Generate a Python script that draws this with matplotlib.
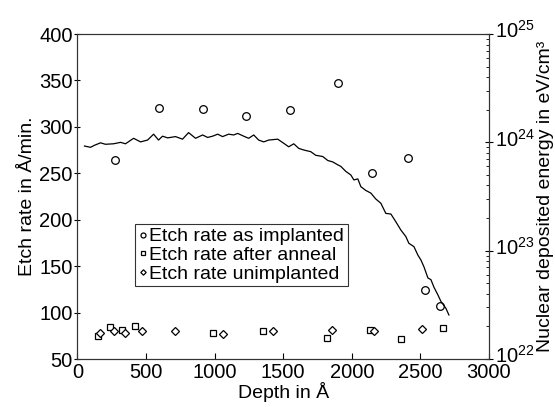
import numpy as np
import matplotlib
matplotlib.use("Agg")
import matplotlib.pyplot as plt
import matplotlib.transforms as mtransforms

plt.rcParams['font.family'] = ['Liberation Sans', 'DejaVu Sans']
plt.rcParams['mathtext.fontset'] = 'custom'
plt.rcParams['mathtext.rm'] = 'Liberation Sans'

# etch rate data (A/min) vs depth (A)
implanted_depth = [270, 591, 912, 1226, 1547, 1898, 2146, 2409, 2533, 2642]
implanted_rate = [264, 320, 319, 312, 318, 347, 250, 266, 124, 107]

anneal_depth = [153, 234, 328, 416, 985, 1350, 1818, 2131, 2358, 2664]
anneal_rate = [75, 84.5, 81, 85.5, 78, 80, 72.6, 81, 71.5, 83]

unimpl_depth = [161, 263, 350, 467, 708, 1058, 1428, 1854, 2161, 2511]
unimpl_rate = [78, 80, 78, 80, 80, 77, 80, 81, 80, 82]

# nuclear deposited energy profile (eV/cm3)
energy_depth = [51, 95, 124, 168, 204, 263, 314, 350, 409, 460, 511, 555, 591, 620,
                657, 715, 766, 810, 861, 912, 949, 985, 1022, 1058, 1102, 1139, 1168,
                1212, 1248, 1285, 1321, 1358, 1394, 1460, 1504, 1540, 1577, 1613, 1650,
                1701, 1737, 1788, 1825, 1861, 1898, 1920, 1956, 1993, 2015, 2044, 2066,
                2102, 2139, 2175, 2212, 2248, 2285, 2321, 2358, 2394, 2416, 2453, 2482,
                2504, 2526, 2555, 2577, 2599, 2628, 2650, 2686, 2708]
energy = [9.25e23, 9.0e23, 9.4e23, 9.9e23, 9.6e23, 9.7e23, 1.0e24, 9.7e23, 1.09e24,
          1.01e24, 1.05e24, 1.19e24, 1.05e24, 1.14e24, 1.10e24, 1.13e24, 1.07e24,
          1.23e24, 1.09e24, 1.17e24, 1.11e24, 1.14e24, 1.19e24, 1.13e24, 1.19e24,
          1.17e24, 1.21e24, 1.14e24, 1.09e24, 1.17e24, 1.05e24, 1.01e24, 1.05e24,
          1.07e24, 9.8e23, 9.1e23, 9.7e23, 8.8e23, 8.5e23, 8.2e23, 7.6e23, 7.4e23,
          6.8e23, 6.6e23, 6.2e23, 6.0e23, 5.4e23, 5.0e23, 4.5e23, 4.6e23, 3.9e23,
          3.6e23, 3.4e23, 3.0e23, 2.74e23, 2.21e23, 2.18e23, 1.85e23, 1.55e23,
          1.35e23, 1.17e23, 1.09e23, 9.1e22, 8.2e22, 7.1e22, 5.6e22, 5.4e22, 4.6e22,
          3.9e22, 3.4e22, 2.94e22, 2.55e22]

fig = plt.figure(figsize=(5.55, 4.07), dpi=100)
ax = fig.add_axes([0.1396, 0.1179, 0.7414, 0.7985])
ax2 = ax.twinx()

mk = dict(linestyle='none', markerfacecolor='white', markeredgecolor='black',
          markeredgewidth=0.9, markersize=5.5)
h1, = ax.plot(implanted_depth, implanted_rate, marker='o', label='Etch rate as implanted', **mk)
h2, = ax.plot(anneal_depth, anneal_rate, marker='s', label='Etch rate after anneal',
              **dict(mk, markersize=4.5))
h3, = ax.plot(unimpl_depth, unimpl_rate, marker='D', label='Etch rate unimplanted',
              **dict(mk, markersize=4.2))

ax2.plot(energy_depth, energy, color='black', linewidth=0.9)
ax2.set_yscale('log')
ax2.set_ylim(1e22, 1e25)

ax.set_xlim(0, 3000)
ax.set_ylim(50, 400)
ax.set_xticks(range(0, 3001, 500))
ax.set_yticks(range(50, 401, 50))

for a in (ax, ax2):
    for s in a.spines.values():
        s.set_linewidth(0.8)
        s.set_color('#333333')

ax.tick_params(axis='x', direction='in', length=4, labelsize=14.5, pad=3)
ax.tick_params(axis='y', direction='inout', length=5, labelsize=14.5, pad=1)
ax2.tick_params(axis='y', which='major', direction='inout', length=6, labelsize=14.5, pad=1)
ax2.tick_params(axis='y', which='minor', direction='in', length=2.5)

# right labels: put the "10" on the tick, exponent above
fig.canvas.draw()
up = mtransforms.ScaledTranslation(0, 0.05, fig.dpi_scale_trans)
for t in ax2.get_yticklabels():
    t.set_transform(t.get_transform() + up)

ax.set_xlabel('Depth in Å', fontsize=14, labelpad=0)
ax.set_ylabel('Etch rate in Å/min.', fontsize=14, labelpad=2)
ax2.set_ylabel('Nuclear deposited energy in eV/cm³', fontsize=14, labelpad=2)

leg = ax2.legend(handles=[h1, h2, h3], loc='upper left', bbox_to_anchor=(0.243, 0.45),
                 bbox_transform=fig.transFigure, fontsize=14, frameon=True, fancybox=False,
                 edgecolor='black', handlelength=0.4, handletextpad=0.15, borderpad=0.2,
                 labelspacing=0.05, borderaxespad=0, markerscale=0.65)
leg.get_frame().set_linewidth(0.8)

fig.savefig('out.png', dpi=100)
